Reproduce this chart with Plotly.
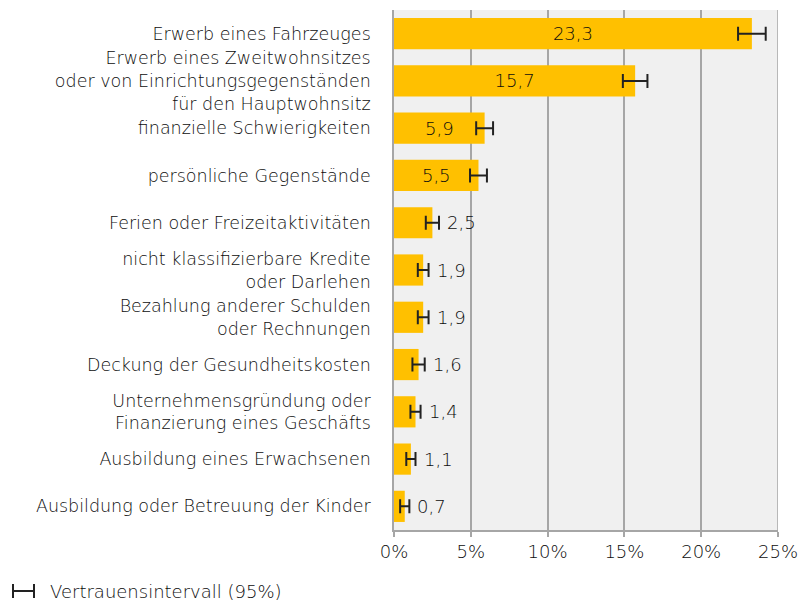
import plotly.graph_objects as go

categories = [
    "Erwerb eines Fahrzeuges",
    "Erwerb eines Zweitwohnsitzes<br>oder von Einrichtungsgegenständen<br>für den Hauptwohnsitz",
    "finanzielle Schwierigkeiten",
    "persönliche Gegenstände",
    "Ferien oder Freizeitaktivitäten",
    "nicht klassifizierbare Kredite<br>oder Darlehen",
    "Bezahlung anderer Schulden<br>oder Rechnungen",
    "Deckung der Gesundheitskosten",
    "Unternehmensgründung oder<br>Finanzierung eines Geschäfts",
    "Ausbildung eines Erwachsenen",
    "Ausbildung oder Betreuung der Kinder",
]
values = [23.3, 15.7, 5.9, 5.5, 2.5, 1.9, 1.9, 1.6, 1.4, 1.1, 0.7]
errors = [0.9, 0.8, 0.55, 0.55, 0.43, 0.35, 0.35, 0.4, 0.33, 0.3, 0.3]
inside_threshold = 5
x_ticks = [0, 5, 10, 15, 20, 25]
x_tick_labels = ["0%", "5%", "10%", "15%", "20%", "25%"]
legend_label = "Vertrauensintervall (95%)"

FONT = "'DejaVu Sans', sans-serif"
FW = 200
FS = 18
FS_CAT = 17.5
TXT = "#0d0d0d"

text_pos = ["inside" if v >= inside_threshold else "none" for v in values]

fig = go.Figure()
fig.add_trace(go.Bar(
    y=categories, x=values, orientation="h",
    marker=dict(color="#FFC000", line=dict(width=0)),
    error_x=dict(type="data", array=errors, visible=True, color="#222222",
                 thickness=2, width=7),
    texttemplate="%{x:.1f}", textposition=text_pos,
    insidetextanchor="middle", textangle=0,
    insidetextfont=dict(family=FONT, size=FS, weight=FW, color=TXT),
    hoverinfo="skip",
))

for c, v, e in zip(categories, values, errors):
    if v < inside_threshold:
        fig.add_annotation(
            x=v + e, y=c, xref="x", yref="y", text=f"{v:.1f}".replace(".", ","),
            showarrow=False, xanchor="left", xshift=6,
            font=dict(family=FONT, size=FS, weight=FW, color=TXT),
        )

# plot-area pixel geometry (for the legend placed under the chart)
L, R, T, B = 394, 21, 10, 73
W, H = 799 - L - R, 603 - T - B
def px(xp):
    return (xp - L) / W
def py(yp):
    return (603 - B - yp) / H

fig.add_annotation(x=px(48), y=py(591), xref="paper", yref="paper", text=legend_label,
                   showarrow=False, xanchor="left", yanchor="middle",
                   font=dict(family=FONT, size=FS, weight=FW, color=TXT))
for sh in [
    dict(x0=px(12), x1=px(35), y0=py(591), y1=py(591)),
    dict(x0=px(13), x1=px(13), y0=py(584), y1=py(598)),
    dict(x0=px(34), x1=px(34), y0=py(584), y1=py(598)),
]:
    fig.add_shape(type="line", xref="paper", yref="paper",
                  line=dict(color="#222222", width=2), **sh)

fig.update_layout(
    width=799, height=603,
    margin=dict(l=L, r=R, t=T, b=B, autoexpand=False),
    paper_bgcolor="white", plot_bgcolor="#F0F0F0",
    bargap=0.34, separators=",.",
    showlegend=False,
    font=dict(family=FONT, size=FS, weight=FW, color=TXT),
)

fig.update_xaxes(
    range=[0, 25], tickvals=x_ticks, ticktext=x_tick_labels,
    showgrid=True, gridcolor="#A6A6A6", gridwidth=1.5,
    showline=True, linecolor="#A6A6A6", linewidth=1.5,
    ticks="outside", ticklen=5, tickcolor="#A6A6A6", tickwidth=1.5,
    tickfont=dict(family=FONT, size=FS, weight=FW, color=TXT),
    zeroline=False, fixedrange=True, automargin=False,
)
fig.update_yaxes(
    autorange="reversed", showgrid=False,
    showline=True, linecolor="#A6A6A6", linewidth=1.5,
    ticks="", ticklabelstandoff=18, automargin=False,
    tickfont=dict(family=FONT, size=FS_CAT, weight=FW, color=TXT),
)
fig.add_shape(type="line", xref="x", yref="paper", x0=25, x1=25, y0=0, y1=1,
              line=dict(color="#A6A6A6", width=1.5))

fig.write_html("out.html")
